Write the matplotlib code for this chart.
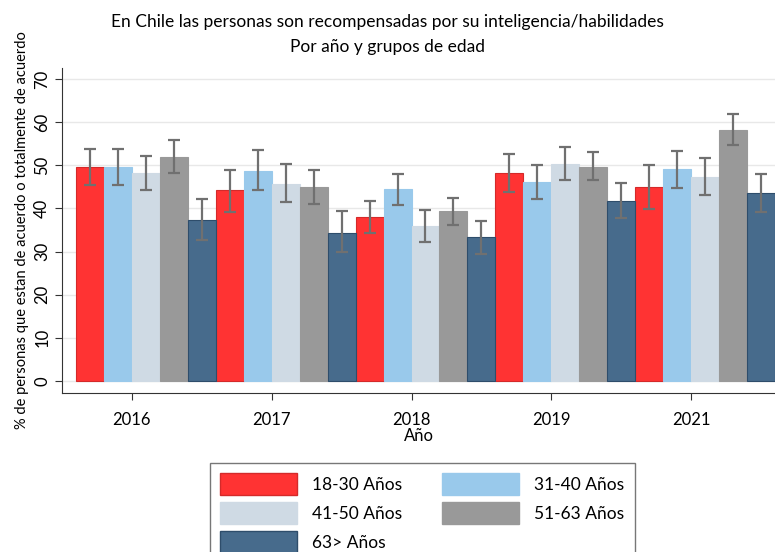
import numpy as np
import matplotlib.pyplot as plt
from matplotlib.patches import Patch

plt.rcParams['font.family'] = ['Lato', 'DejaVu Sans']

# datos
years = ['2016', '2017', '2018', '2019', '2021']
groups = ['18-30 Años', '31-40 Años', '41-50 Años', '51-63 Años', '63> Años']
colors = ['#ff3333', '#99c9eb', '#cfdae4', '#999999', '#476b8c']
edges = ['#d42a2a', '#99c9eb', '#cfdae4', '#999999', '#2e4d6b']

g1830 = [49.7, 44.2, 38.1, 48.2, 44.9]
g3140 = [49.7, 48.8, 44.5, 46.1, 49.1]
g4150 = [48.2, 45.7, 36.0, 50.3, 47.4]
g5163 = [52.0, 45.0, 39.3, 49.7, 58.2]
g63 = [37.4, 34.4, 33.3, 41.8, 43.5]

lo1830 = [45.5, 39.1, 34.3, 43.8, 39.8]
hi1830 = [53.9, 49.0, 41.8, 52.6, 50.1]
lo3140 = [45.5, 44.3, 40.8, 42.2, 44.8]
hi3140 = [53.9, 53.5, 48.1, 50.0, 53.4]
lo4150 = [44.2, 41.4, 32.3, 46.5, 43.2]
hi4150 = [52.2, 50.2, 39.7, 54.3, 51.7]
lo5163 = [48.3, 41.1, 36.2, 46.5, 54.7]
hi5163 = [55.9, 49.0, 42.5, 53.1, 61.9]
lo63 = [32.7, 29.8, 29.4, 37.7, 39.1]
hi63 = [42.2, 39.3, 37.2, 45.9, 48.1]

values = [g1830, g3140, g4150, g5163, g63]
lows = [lo1830, lo3140, lo4150, lo5163, lo63]
highs = [hi1830, hi3140, hi4150, hi5163, hi63]

fig = plt.figure(figsize=(7.75, 5.52), dpi=100)
ax = fig.add_axes([0.08, 0.288, 0.92, 0.589])

x = np.arange(len(years))
w = 0.2
for k in range(len(groups)):
    pos = x + (k - 2) * w
    v = np.array(values[k])
    err = [v - np.array(lows[k]), np.array(highs[k]) - v]
    ax.bar(pos, v, width=w, color=colors[k], edgecolor=edges[k], linewidth=0.8, zorder=2)
    ax.errorbar(pos, v, yerr=err, fmt='none', ecolor='#707070', elinewidth=1.6,
                capsize=4, capthick=1.6, zorder=3)

ax.set_xlim(-0.6, 4.5)
ax.set_ylim(-2.8, 72.6)
ax.set_yticks(range(0, 71, 10))
ax.set_xticks(x - 0.1)
ax.set_xticklabels(years)
ax.tick_params(axis='both', labelsize=12, length=5, color='#333333')
ax.tick_params(axis='x', pad=9)
ax.tick_params(axis='y', labelrotation=90)
for t in ax.get_yticklabels():
    t.set_va('center')
ax.yaxis.grid(True, color='#e8e8e8', linewidth=1, zorder=0)
ax.set_axisbelow(True)
ax.spines['top'].set_visible(False)
ax.spines['right'].set_visible(False)
ax.spines['left'].set_color('#333333')
ax.spines['bottom'].set_color('#333333')

ax.set_xlabel('Año', fontsize=12, labelpad=0)
ax.set_ylabel('% de personas que estan de acuerdo o totalmente de acuerdo', fontsize=10.5, labelpad=4)

fig.text(0.5, 0.96, 'En Chile las personas son recompensadas por su inteligencia/habilidades',
         ha='center', va='center', fontsize=12.5)
fig.text(0.5, 0.915, 'Por año y grupos de edad', ha='center', va='center', fontsize=12.5)

handles = [Patch(facecolor=colors[k], edgecolor=edges[k]) for k in range(len(groups))]
order = [0, 2, 4, 1, 3]
fig.legend([handles[i] for i in order], [groups[i] for i in order], ncol=2,
           loc='upper left', bbox_to_anchor=(210 / 775, 1 - 463 / 552),
           borderaxespad=0, frameon=True, fancybox=False, edgecolor='#555555',
           fontsize=12.5, handlelength=4.4, handleheight=1.5, handletextpad=0.9,
           columnspacing=2.3, labelspacing=0.45, borderpad=0.6)

plt.savefig('out.png', dpi=100)
